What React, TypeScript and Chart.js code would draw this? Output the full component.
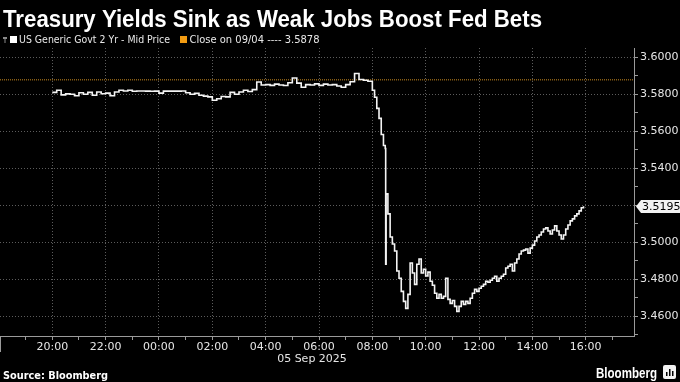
import { useEffect, useRef } from "react";
import { Chart, registerables } from "chart.js";

Chart.register(...registerables);

const TITLE = "Treasury Yields Sink as Weak Jobs Boost Fed Bets";
const SERIES_LABEL = "US Generic Govt 2 Yr - Mid Price";
const CLOSE_LABEL = "Close on 09/04 ---- 3.5878";
const CLOSE_VALUE = 3.5878;
const DATE_LABEL = "05 Sep 2025";
const SOURCE_LABEL = "Source: Bloomberg";
const BRAND_LABEL = "Bloomberg";

// Sep 4 20:00 -> Sep 5 15:55 (New York time)
const times = [
  "20:00", "20:10", "20:20", "20:30", "20:40", "20:50",
  "21:00", "21:10", "21:20", "21:30", "21:40", "21:50",
  "22:00", "22:10", "22:20", "22:30", "22:40", "22:50",
  "23:00", "23:10", "23:20", "23:30", "23:40", "23:50",
  "00:00", "00:10", "00:20", "00:30", "00:40", "00:50",
  "01:00", "01:10", "01:20", "01:30", "01:40", "01:50",
  "02:00", "02:10", "02:20", "02:30", "02:40", "02:50",
  "03:00", "03:10", "03:20", "03:30", "03:40", "03:50",
  "04:00", "04:10", "04:20", "04:30", "04:40", "04:50",
  "05:00", "05:10", "05:20", "05:30", "05:40", "05:50",
  "06:00", "06:10", "06:20", "06:30", "06:40", "06:50",
  "07:00", "07:10", "07:20", "07:30", "07:40", "07:50",
  "08:00", "08:05", "08:10", "08:15", "08:20", "08:25", "08:29", "08:30", "08:31", "08:35", "08:40", "08:45", "08:50", "08:55",
  "09:00", "09:05", "09:10", "09:15", "09:20", "09:25", "09:30", "09:35", "09:40", "09:45", "09:50", "09:55",
  "10:00", "10:05", "10:10", "10:15", "10:20", "10:25", "10:30", "10:35", "10:40", "10:45", "10:50", "10:55",
  "11:00", "11:05", "11:10", "11:15", "11:20", "11:25", "11:30", "11:35", "11:40", "11:45", "11:50", "11:55",
  "12:00", "12:05", "12:10", "12:15", "12:20", "12:25", "12:30", "12:35", "12:40", "12:45", "12:50", "12:55",
  "13:00", "13:05", "13:10", "13:15", "13:20", "13:25", "13:30", "13:35", "13:40", "13:45", "13:50", "13:55",
  "14:00", "14:05", "14:10", "14:15", "14:20", "14:25", "14:30", "14:35", "14:40", "14:45", "14:50", "14:55",
  "15:00", "15:05", "15:10", "15:15", "15:20", "15:25", "15:30", "15:35", "15:40", "15:45", "15:50", "15:55",
];

const yields = [
  3.5810, 3.5822, 3.5797, 3.5802, 3.5800, 3.5792,
  3.5808, 3.5800, 3.5810, 3.5795, 3.5812, 3.5803,
  3.5806, 3.5792, 3.5812, 3.5822, 3.5818, 3.5822,
  3.5816, 3.5818, 3.5818, 3.5817, 3.5816, 3.5817,
  3.5806, 3.5817, 3.5817, 3.5817, 3.5817, 3.5818,
  3.5808, 3.5800, 3.5805, 3.5795, 3.5790, 3.5786,
  3.5768, 3.5776, 3.5788, 3.5786, 3.5810, 3.5800,
  3.5812, 3.5822, 3.5815, 3.5825, 3.5866, 3.5850,
  3.5852, 3.5848, 3.5855, 3.5850, 3.5847, 3.5862,
  3.5888, 3.5860, 3.5838, 3.5852, 3.5850, 3.5856,
  3.5848, 3.5855, 3.5850, 3.5852, 3.5845, 3.5838,
  3.5852, 3.5868, 3.5912, 3.5880, 3.5876, 3.5870,
  3.5822, 3.5784, 3.5724, 3.5670, 3.5583, 3.5523, 3.5507, 3.4882, 3.5262, 3.5154, 3.5029, 3.4991, 3.4953, 3.4845,
  3.4806, 3.4735, 3.4681, 3.4643, 3.4719, 3.4888, 3.4834, 3.4773, 3.4882, 3.4910, 3.4834, 3.4855,
  3.4818, 3.4839, 3.4790, 3.4768, 3.4725, 3.4698, 3.4719, 3.4698, 3.4708, 3.4806, 3.4692, 3.4670,
  3.4686, 3.4654, 3.4627, 3.4654, 3.4681, 3.4665, 3.4681, 3.4670, 3.4698, 3.4725, 3.4746, 3.4735,
  3.4752, 3.4763, 3.4773, 3.4790, 3.4784, 3.4795, 3.4806, 3.4817, 3.4790, 3.4806, 3.4817, 3.4828,
  3.4861, 3.4871, 3.4882, 3.4845, 3.4888, 3.4910, 3.4937, 3.4953, 3.4958, 3.4964, 3.4942, 3.4969,
  3.4985, 3.5007, 3.5029, 3.5040, 3.5056, 3.5072, 3.5078, 3.5061, 3.5045, 3.5067, 3.5089, 3.5061,
  3.5040, 3.5018, 3.5040, 3.5072, 3.5094, 3.5116, 3.5127, 3.5143, 3.5154, 3.5170, 3.5187, 3.5195,
];

// axis ticks (hours relative to midnight Sep 5; yield levels)
const xTickHours = [-5, -4, -3, -2, -1, 0, 1, 2, 3, 4, 5, 6, 7, 8, 9, 10, 11, 12, 13, 14, 15, 16, 17];
const yTickValues = [3.45, 3.46, 3.47, 3.48, 3.49, 3.5, 3.51, 3.52, 3.53, 3.54, 3.55, 3.56, 3.57, 3.58, 3.59, 3.6];
const X_MIN = -5.96;
const X_MAX = 17.81;
const Y_MIN = 3.4494;
const Y_MAX = 3.605;

const toHours = (t: string) => {
  const [hh, mm] = t.split(":").map(Number);
  const h = hh + mm / 60;
  return h >= 18 ? h - 24 : h;
};

const fitText = (ctx: CanvasRenderingContext2D, text: string, x: number, y: number, width: number) => {
  const w = ctx.measureText(text).width;
  ctx.save();
  ctx.translate(x, y);
  ctx.scale(width / w, 1);
  ctx.textAlign = "left";
  ctx.fillText(text, 0, 0);
  ctx.restore();
};

const overlay = {
  id: "overlay",
  beforeDraw(chart: any) {
    const { ctx, width, height } = chart;
    ctx.save();
    ctx.fillStyle = "#000000";
    ctx.fillRect(0, 0, width, height);
    ctx.restore();
  },
  afterDraw(chart: any) {
    const ctx: CanvasRenderingContext2D = chart.ctx;
    const area = chart.chartArea;
    ctx.save();
    ctx.textBaseline = "alphabetic";

    // title
    ctx.fillStyle = "#ffffff";
    ctx.font = "bold 24px 'Liberation Sans', Arial, sans-serif";
    fitText(ctx, TITLE, 3, 27, 539);

    // legend
    ctx.fillStyle = "#8a8a8a";
    ctx.fillRect(3, 37, 4, 2);
    ctx.fillRect(4.5, 37, 1, 6);
    ctx.fillStyle = "#ffffff";
    ctx.fillRect(10, 36, 7, 7);
    ctx.font = "10.5px 'DejaVu Sans', sans-serif";
    ctx.fillStyle = "#e8e8e8";
    fitText(ctx, SERIES_LABEL, 19, 43, 151);
    ctx.fillStyle = "#f39c12";
    ctx.fillRect(180, 36, 7, 7);
    ctx.fillStyle = "#e8e8e8";
    fitText(ctx, CLOSE_LABEL, 189.5, 43, 130);

    // left frame tick
    ctx.strokeStyle = "#9a9a9a";
    ctx.lineWidth = 1;
    ctx.beginPath();
    ctx.moveTo(0.5, area.bottom);
    ctx.lineTo(0.5, area.bottom + 16);
    ctx.stroke();

    // date label
    ctx.fillStyle = "#e6e6e6";
    ctx.font = "11px 'DejaVu Sans', sans-serif";
    ctx.textAlign = "center";
    ctx.textBaseline = "middle";
    ctx.fillText(DATE_LABEL, 312, 359);

    // last value label
    const yScale = chart.scales.y;
    const last = yields[yields.length - 1];
    const py = Math.round(yScale.getPixelForValue(last)) + 0.5;
    ctx.fillStyle = "#f2f2f2";
    ctx.beginPath();
    ctx.moveTo(636, py);
    ctx.lineTo(641, py - 6.5);
    ctx.lineTo(680, py - 6.5);
    ctx.lineTo(680, py + 6.5);
    ctx.lineTo(641, py + 6.5);
    ctx.closePath();
    ctx.fill();
    ctx.fillStyle = "#000000";
    ctx.textAlign = "left";
    ctx.font = "11px 'DejaVu Sans', sans-serif";
    ctx.fillText(last.toFixed(4), 642, py + 0.5);

    // footer
    ctx.textBaseline = "alphabetic";
    ctx.fillStyle = "#ffffff";
    ctx.font = "bold 11px 'DejaVu Sans', sans-serif";
    fitText(ctx, SOURCE_LABEL, 3, 379, 105);
    ctx.font = "bold 14px 'Liberation Sans', Arial, sans-serif";
    fitText(ctx, BRAND_LABEL, 596, 378, 61);
    // brand icon
    ctx.fillStyle = "#f2f2f2";
    ctx.beginPath();
    ctx.roundRect(663, 365, 13, 14, 2);
    ctx.fill();
    ctx.fillStyle = "#000000";
    ctx.fillRect(666, 372, 1.5, 4);
    ctx.fillRect(669, 369, 1.5, 7);
    ctx.fillRect(672, 371, 1.5, 5);
    ctx.restore();
  },
};

export default function App() {
  const canvasRef = useRef<HTMLCanvasElement | null>(null);

  useEffect(() => {
    document.body.style.margin = "0";
    document.body.style.background = "#000";
    const canvas = canvasRef.current;
    if (!canvas) return;
    const points = times.map((t, i) => ({ x: toHours(t), y: yields[i] }));
    const isMajorX = (v: number) => Math.round(v) % 2 === 0;
    const isMajorY = (v: number) => Math.round(v * 100) % 2 === 0;
    const chart = new Chart(canvas, {
      type: "line",
      data: {
        datasets: [
          {
            label: SERIES_LABEL,
            data: points,
            borderColor: "#f4f4f4",
            borderWidth: 1.6,
            pointRadius: 0,
            stepped: true,
            order: 0,
          },
          {
            label: CLOSE_LABEL,
            data: [
              { x: X_MIN, y: CLOSE_VALUE },
              { x: X_MAX, y: CLOSE_VALUE },
            ],
            borderColor: "#c98a1e",
            borderWidth: 1,
            borderDash: [1, 1],
            pointRadius: 0,
            order: 1,
          },
        ],
      },
      options: {
        responsive: false,
        animation: false,
        events: [],
        layout: { padding: { top: 48, left: 0, right: 0, bottom: 0 } },
        plugins: {
          legend: { display: false },
          tooltip: { enabled: false },
          title: { display: false },
        },
        scales: {
          x: {
            type: "linear",
            min: X_MIN,
            max: X_MAX,
            afterBuildTicks: (s: any) => {
              s.ticks = xTickHours.map((v) => ({ value: v }));
            },
            afterFit: (s: any) => {
              s.height = 46;
            },
            ticks: {
              autoSkip: false,
              maxRotation: 0,
              padding: 1,
              color: "#e6e6e6",
              font: { family: "'DejaVu Sans', sans-serif", size: 11 },
              callback: (v: any) => {
                const n = Number(v);
                if (!isMajorX(n)) return "";
                const h = ((n % 24) + 24) % 24;
                return String(h).padStart(2, "0") + ":00";
              },
            },
            grid: {
              color: (c: any) => (c.tick && isMajorX(c.tick.value) ? "#5c5c5c" : "rgba(0,0,0,0)"),
              tickColor: "#9a9a9a",
              tickLength: 4,
              tickBorderDash: [],
              lineWidth: 1,
            },
            border: { display: true, color: "#9a9a9a", width: 1, dash: [1, 2] },
          },
          y: {
            type: "linear",
            position: "right",
            min: Y_MIN,
            max: Y_MAX,
            afterBuildTicks: (s: any) => {
              s.ticks = yTickValues.map((v) => ({ value: v }));
            },
            afterFit: (s: any) => {
              s.width = 46;
            },
            ticks: {
              autoSkip: false,
              padding: 2,
              color: "#e6e6e6",
              font: { family: "'DejaVu Sans', sans-serif", size: 11 },
              callback: (v: any) => {
                const n = Number(v);
                return isMajorY(n) ? n.toFixed(4) : "";
              },
            },
            grid: {
              color: (c: any) => (c.tick && isMajorY(c.tick.value) ? "#5c5c5c" : "rgba(0,0,0,0)"),
              tickColor: "#9a9a9a",
              tickLength: 4,
              tickBorderDash: [],
              lineWidth: 1,
            },
            border: { display: true, color: "#9a9a9a", width: 1, dash: [1, 2] },
          },
        },
      },
      plugins: [overlay],
    } as any);
    return () => chart.destroy();
  }, []);

  return (
    <div style={{ position: "absolute", left: 0, top: 0, width: 680, height: 382, background: "#000" }}>
      <canvas ref={canvasRef} width={680} height={382} style={{ width: 680, height: 382, display: "block" }} />
    </div>
  );
}
